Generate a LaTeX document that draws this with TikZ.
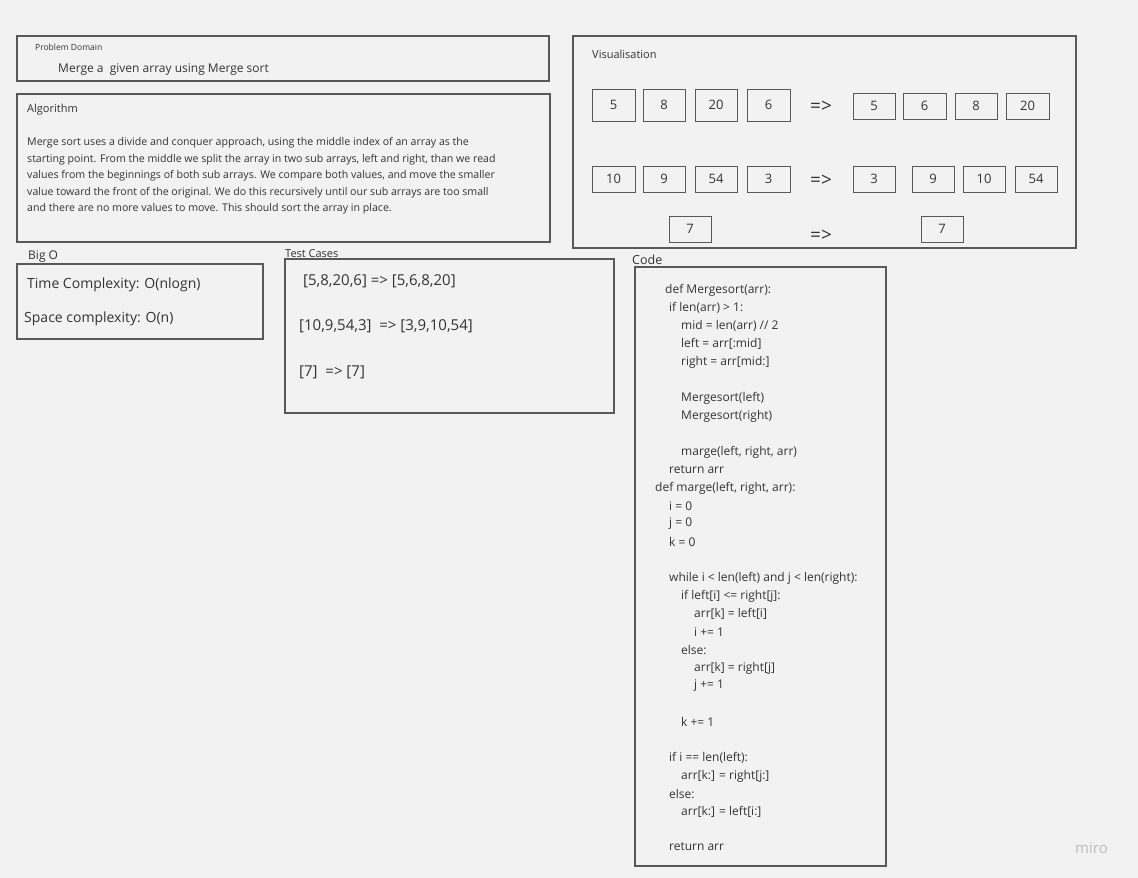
\documentclass[tikz,border=0pt]{standalone}
\usepackage{fontspec}
\setmainfont{Open Sans}
\definecolor{bgc}{HTML}{F2F2F2}
\definecolor{bordc}{HTML}{595959}
\definecolor{textc}{HTML}{333333}
\definecolor{miroc}{HTML}{BDBDBD}
\begin{document}
\begin{tikzpicture}[x=1pt,y=-1pt,
  panel/.style={draw=bordc, line width=1.2pt, fill=bgc, inner sep=0pt},
  cell/.style={draw=bordc, line width=1pt, inner sep=0pt, text=textc, font=\fontsize{13}{15}\selectfont},
  txt/.style={anchor=west, inner sep=0pt, text=textc, yshift=-2pt},
  ttl/.style={txt, font=\fontsize{11}{13}\selectfont},
  para/.style={txt, font=\fontsize{10.6}{13}\selectfont},
  codeln/.style={txt, font=\fontsize{12}{14}\selectfont},
  tcase/.style={txt, font=\fontsize{15}{18}\selectfont},
  arr/.style={txt, font=\fontsize{19}{22}\selectfont}]
\fill[bgc] (0,0) rectangle (1138,878);
\useasboundingbox (0,0) rectangle (1138,878);

% Problem domain
\node[panel, minimum width=532pt, minimum height=45pt] (pd) at (283,58.5) {};
\node[txt, font=\fontsize{8.5}{10}\selectfont] (pdt) at (35,45) {Problem Domain};
\node[txt, font=\fontsize{12}{14}\selectfont] (pdx) at (58,68) {Merge a\ \ given array using Merge sort};

% Algorithm
\node[panel, minimum width=533pt, minimum height=148pt] (alg) at (283.5,168) {};
\node[ttl] (algt) at (27,108) {Algorithm};
\node[para] (a1) at (27,141) {Merge sort uses a divide and conquer approach, using the middle index of an array as the};
\node[para] (a2) at (27,157.5) {starting point. From the middle we split the array in two sub arrays, left and right, than we read};
\node[para] (a3) at (27,174) {values from the beginnings of both sub arrays. We compare both values, and move the smaller};
\node[para] (a4) at (27,190.5) {value toward the front of the original. We do this recursively until our sub arrays are too small};
\node[para] (a5) at (27,207) {and there are no more values to move. This should sort the array in place.};

% Visualisation
\node[panel, minimum width=503pt, minimum height=212pt] (vis) at (824.5,142) {};
\node[ttl] (vist) at (592,52) {Visualisation};
% row 1
\node[cell, minimum width=43pt, minimum height=32pt] (r1a) at (613.5,105) {5};
\node[cell, minimum width=42pt, minimum height=32pt] (r1b) at (664,105) {8};
\node[cell, minimum width=42pt, minimum height=32pt] (r1c) at (716,105) {20};
\node[cell, minimum width=43pt, minimum height=32pt] (r1d) at (768.5,105) {6};
\node[arr] (r1e) at (810,105) {=>};
\node[cell, minimum width=42pt, minimum height=26pt] (r1f) at (874,106) {5};
\node[cell, minimum width=43pt, minimum height=26pt] (r1g) at (924.5,106) {6};
\node[cell, minimum width=42pt, minimum height=26pt] (r1h) at (976,106) {8};
\node[cell, minimum width=43pt, minimum height=26pt] (r1i) at (1027.5,106) {20};
% row 2
\node[cell, minimum width=43pt, minimum height=26pt] (r2a) at (613.5,179) {10};
\node[cell, minimum width=42pt, minimum height=26pt] (r2b) at (664,179) {9};
\node[cell, minimum width=42pt, minimum height=26pt] (r2c) at (716,179) {54};
\node[cell, minimum width=43pt, minimum height=26pt] (r2d) at (768.5,179) {3};
\node[arr] (r2e) at (810,179) {=>};
\node[cell, minimum width=42pt, minimum height=26pt] (r2f) at (874,179) {3};
\node[cell, minimum width=42pt, minimum height=26pt] (r2g) at (933,179) {9};
\node[cell, minimum width=42pt, minimum height=26pt] (r2h) at (984,179) {10};
\node[cell, minimum width=42pt, minimum height=26pt] (r2i) at (1036,179) {54};
% row 3
\node[cell, minimum width=42pt, minimum height=26pt] (r3a) at (690,229) {7};
\node[arr] (r3e) at (810,234) {=>};
\node[cell, minimum width=42pt, minimum height=26pt] (r3f) at (942,229) {7};

% Big O
\node[txt, font=\fontsize{12}{14}\selectfont] (bigt) at (28,255) {Big O};
\node[panel, minimum width=246pt, minimum height=75pt] (big) at (140,301.5) {};
\node[txt, font=\fontsize{14}{16}\selectfont] (b1) at (27,283) {Time Complexity: O(nlogn)};
\node[txt, font=\fontsize{14}{16}\selectfont] (b2) at (24,317) {Space complexity: O(n)};

% Test cases
\node[txt, font=\fontsize{11}{13}\selectfont] (tct) at (285,252) {Test Cases};
\node[panel, minimum width=329pt, minimum height=154pt] (tc) at (449.5,336) {};
\node[tcase] (t1) at (303,279) {[5,8,20,6] => [5,6,8,20]};
\node[tcase] (t2) at (299,324) {[10,9,54,3]\ \ => [3,9,10,54]};
\node[tcase] (t3) at (299,370) {[7]\ \ => [7]};

% Code
\node[txt, font=\fontsize{12.5}{14}\selectfont] (codet) at (632,258) {Code};
\node[panel, minimum width=251pt, minimum height=599pt] (code) at (760.5,566.5) {};
\node[codeln] (c01) at (665,288) {def Mergesort(arr):};
\node[codeln] (c02) at (669,306) {if len(arr) > 1:};
\node[codeln] (c03) at (681,324) {mid = len(arr) // 2};
\node[codeln] (c04) at (681,342) {left = arr[:mid]};
\node[codeln] (c05) at (681,360) {right = arr[mid:]};
\node[codeln] (c06) at (681,396) {Mergesort(left)};
\node[codeln] (c07) at (681,414) {Mergesort(right)};
\node[codeln] (c08) at (681,450) {marge(left, right, arr)};
\node[codeln] (c09) at (669,468) {return arr};
\node[codeln] (c10) at (655,486) {def marge(left, right, arr):};
\node[codeln] (c11) at (669,504) {i = 0};
\node[codeln] (c12) at (669,522) {j = 0};
\node[codeln] (c13) at (669,540) {k = 0};
\node[codeln] (c14) at (669,576) {while i < len(left) and j < len(right):};
\node[codeln] (c15) at (681,594) {if left[i] <= right[j]:};
\node[codeln] (c16) at (694,612) {arr[k] = left[i]};
\node[codeln] (c17) at (694,630) {i += 1};
\node[codeln] (c18) at (681,648) {else:};
\node[codeln] (c19) at (694,666) {arr[k] = right[j]};
\node[codeln] (c20) at (694,684) {j += 1};
\node[codeln] (c21) at (681,720) {k += 1};
\node[codeln] (c22) at (669,756) {if i == len(left):};
\node[codeln] (c23) at (681,774) {arr[k:] = right[j:]};
\node[codeln] (c24) at (669,792) {else:};
\node[codeln] (c25) at (681,810) {arr[k:] = left[i:]};
\node[codeln] (c26) at (669,845) {return arr};

% miro logo
\node[txt, text=miroc, font=\fontsize{15}{17}\selectfont] (miro) at (1075,846) {miro};
\end{tikzpicture}
\end{document}
